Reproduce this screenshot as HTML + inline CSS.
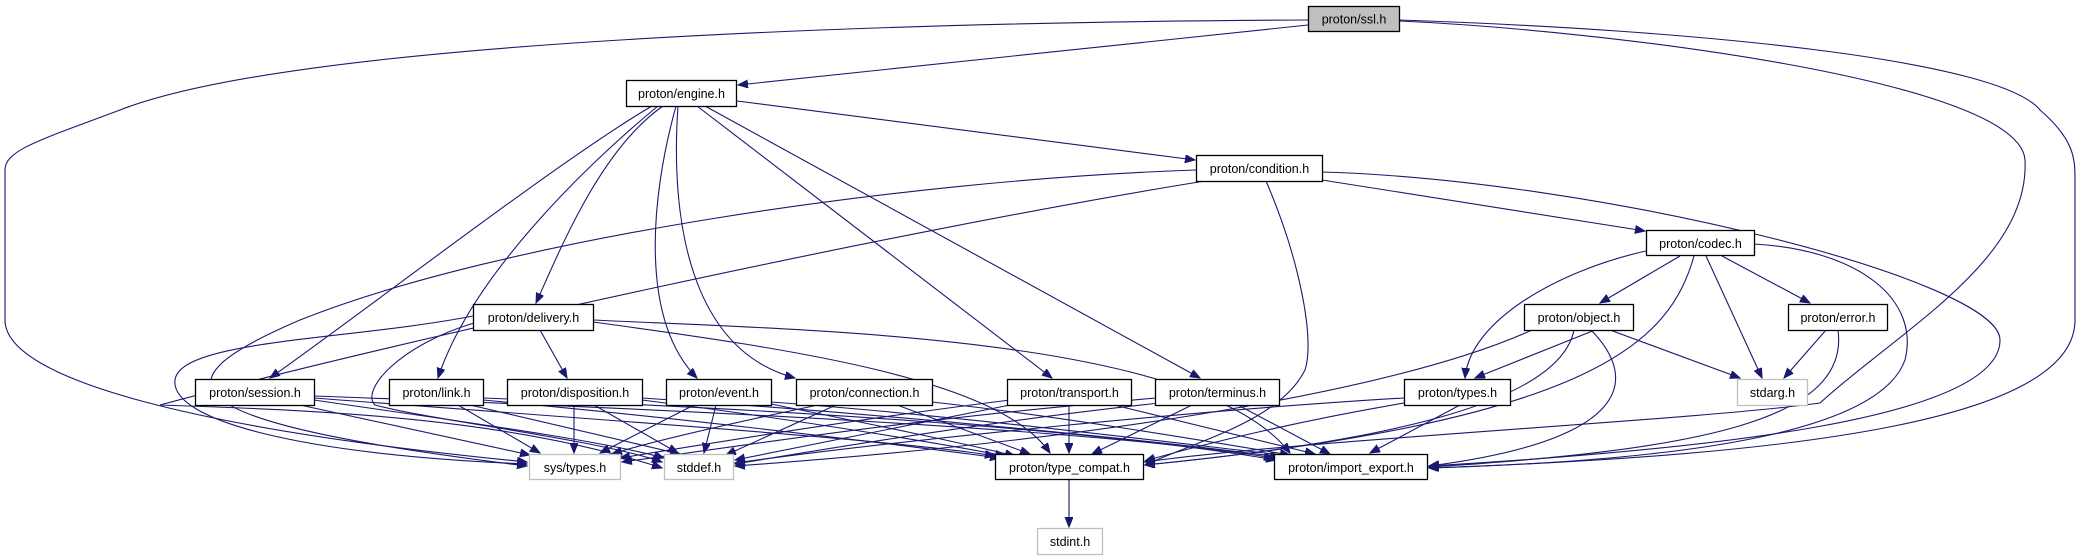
<!DOCTYPE html>
<html><head><meta charset="utf-8"><style>
html,body{margin:0;padding:0;background:#fff;}
svg{display:block;}
text{font-family:"Liberation Sans",Arial,sans-serif;font-size:12.5px;fill:#000;}
.e{fill:none;stroke:#191970;stroke-width:1.1;marker-end:url(#a);}
.n{fill:#fff;stroke:#000;stroke-width:1.3;}
.g{fill:#fff;stroke:#bfbfbf;stroke-width:1.3;}
</style></head><body>
<svg width="2081" height="560" viewBox="0 0 2081 560" xmlns="http://www.w3.org/2000/svg">
<defs><marker id="a" markerUnits="userSpaceOnUse" markerWidth="11" markerHeight="9" refX="10" refY="4" orient="auto"><path d="M0,0 L10,4 L0,8 z" fill="#191970" stroke="#191970"/></marker></defs>

<!-- ssl edges -->
<path class="e" d="M1308,25 L738,85"/>
<path class="e" d="M1308,20 C900,22 300,40 120,110 C40,140 5,150 5,170 L5,320 C5,380 200,430 527,462"/>
<path class="e" d="M1399,20 C1700,30 2000,60 2040,110 C2075,140 2075,160 2075,180 L2075,320 C2075,420 1800,455 1429,468"/>
<path class="e" d="M1399,21 C1600,30 2020,80 2025,160 C2030,260 1900,330 1820,403 C1700,420 1300,440 1145,462"/>

<!-- engine edges -->
<path class="e" d="M737,101 L1195,160"/>
<path class="e" d="M663,106 C600,150 560,250 536,303"/>
<path class="e" d="M652,106 C560,160 380,300 270,378"/>
<path class="e" d="M658,106 C580,170 470,280 438,378"/>
<path class="e" d="M676,106 C650,200 640,320 697,378"/>
<path class="e" d="M678,106 C670,220 690,350 795,378"/>
<path class="e" d="M697,106 L1052,378"/>
<path class="e" d="M705,106 L1200,378"/>

<!-- condition edges -->
<path class="e" d="M1196,170 C900,180 500,240 300,320 C160,380 150,420 527,466"/>
<path class="e" d="M1205,181 C900,230 400,340 160,405 C300,410 500,415 662,468"/>
<path class="e" d="M1266,181 C1300,260 1315,340 1305,370 C1280,420 1200,440 1145,465"/>
<path class="e" d="M1322,180 L1645,231"/>
<path class="e" d="M1322,172 C1600,180 2000,280 2000,340 C2000,420 1700,450 1429,466"/>

<!-- codec edges -->
<path class="e" d="M1680,256 L1600,303"/>
<path class="e" d="M1646,251 C1560,270 1470,320 1465,378"/>
<path class="e" d="M1706,256 L1762,378"/>
<path class="e" d="M1722,256 L1810,303"/>
<path class="e" d="M1694,256 C1670,340 1600,420 1145,465"/>
<path class="e" d="M1754,244 C1860,250 1920,300 1905,360 C1880,430 1700,460 1429,468"/>

<!-- object edges -->
<path class="e" d="M1595,330 L1475,378"/>
<path class="e" d="M1610,330 L1740,378"/>
<path class="e" d="M1574,330 C1560,400 1400,440 1145,465"/>
<path class="e" d="M1591,330 C1640,380 1630,440 1429,466"/>
<path class="e" d="M1532,330 C1400,390 1100,440 735,466"/>

<!-- error edges -->
<path class="e" d="M1826,330 L1784,378"/>
<path class="e" d="M1838,330 C1850,420 1700,450 1429,467"/>

<!-- types edges -->
<path class="e" d="M1460,405 L1370,453"/>
<path class="e" d="M1422,400 C1300,420 1200,445 1145,461"/>
<path class="e" d="M1404,398 C1200,410 900,440 735,463"/>

<!-- delivery edges -->
<path class="e" d="M473,316 C350,340 180,340 175,380 C170,420 300,455 527,464"/>
<path class="e" d="M474,323 C400,345 360,390 375,405 C430,420 600,440 662,462"/>
<path class="e" d="M540,330 L567,378"/>
<path class="e" d="M593,322 C800,350 1000,380 1050,453"/>
<path class="e" d="M593,320 C800,330 1200,335 1290,453"/>

<!-- session edges -->
<path class="e" d="M300,405 L530,455"/>
<path class="e" d="M314,400 C450,420 600,440 664,458"/>
<path class="e" d="M314,398 C600,420 900,440 995,456"/>
<path class="e" d="M314,396 C700,410 1100,430 1274,458"/>

<!-- link edges -->
<path class="e" d="M458,405 L540,453"/>
<path class="e" d="M470,405 L680,454"/>
<path class="e" d="M483,400 C700,420 900,445 1000,458"/>
<path class="e" d="M483,398 C800,410 1100,430 1276,460"/>

<!-- disposition edges -->
<path class="e" d="M574,405 L574,453"/>
<path class="e" d="M594,405 L678,453"/>
<path class="e" d="M642,400 C800,420 950,445 1005,456"/>
<path class="e" d="M642,398 C900,415 1150,440 1280,457"/>

<!-- event edges -->
<path class="e" d="M694,405 L600,453"/>
<path class="e" d="M716,405 L704,453"/>
<path class="e" d="M771,404 C850,420 950,440 1015,456"/>
<path class="e" d="M771,402 C950,415 1150,440 1290,456"/>

<!-- connection edges -->
<path class="e" d="M818,405 C700,430 640,445 612,454"/>
<path class="e" d="M836,405 L726,455"/>
<path class="e" d="M897,405 L1030,454"/>
<path class="e" d="M932,402 C1050,415 1200,440 1290,455"/>

<!-- transport edges -->
<path class="e" d="M1010,400 C850,420 700,445 620,458"/>
<path class="e" d="M1015,404 L735,460"/>
<path class="e" d="M1069,405 L1069,453"/>
<path class="e" d="M1114,405 L1315,454"/>

<!-- terminus edges -->
<path class="e" d="M1156,398 C900,420 750,445 622,462"/>
<path class="e" d="M1160,403 C1000,420 850,445 735,464"/>
<path class="e" d="M1192,405 L1092,454"/>
<path class="e" d="M1238,405 L1330,454"/>

<!-- type_compat -> stdint -->
<path class="e" d="M1069,479 L1069,527"/>

<!-- nodes -->
<rect x="1308.5" y="6.5" width="91" height="25" fill="#bfbfbf" stroke="#000" stroke-width="1.3"/>
<text x="1354" y="23.5" text-anchor="middle">proton/ssl.h</text>

<rect class="n" x="626.5" y="80.5" width="110" height="26"/>
<text x="681.5" y="98" text-anchor="middle">proton/engine.h</text>

<rect class="n" x="1196.5" y="155.5" width="126" height="26"/>
<text x="1259.5" y="173" text-anchor="middle">proton/condition.h</text>

<rect class="n" x="1646.5" y="230.5" width="108" height="25"/>
<text x="1700.5" y="248" text-anchor="middle">proton/codec.h</text>

<rect class="n" x="473.5" y="304.5" width="120" height="26"/>
<text x="533.5" y="322" text-anchor="middle">proton/delivery.h</text>

<rect class="n" x="1524.5" y="304.5" width="109" height="26"/>
<text x="1579" y="322" text-anchor="middle">proton/object.h</text>

<rect class="n" x="1788.5" y="304.5" width="99" height="26"/>
<text x="1838" y="322" text-anchor="middle">proton/error.h</text>

<rect class="n" x="195.5" y="379.5" width="119" height="26"/>
<text x="255" y="397" text-anchor="middle">proton/session.h</text>

<rect class="n" x="389.5" y="379.5" width="94" height="26"/>
<text x="436.5" y="397" text-anchor="middle">proton/link.h</text>

<rect class="n" x="507.5" y="379.5" width="135" height="26"/>
<text x="575" y="397" text-anchor="middle">proton/disposition.h</text>

<rect class="n" x="666.5" y="379.5" width="105" height="26"/>
<text x="719" y="397" text-anchor="middle">proton/event.h</text>

<rect class="n" x="796.5" y="379.5" width="136" height="26"/>
<text x="864.5" y="397" text-anchor="middle">proton/connection.h</text>

<rect class="n" x="1007.5" y="379.5" width="124" height="26"/>
<text x="1069.5" y="397" text-anchor="middle">proton/transport.h</text>

<rect class="n" x="1155.5" y="379.5" width="124" height="26"/>
<text x="1217.5" y="397" text-anchor="middle">proton/terminus.h</text>

<rect class="n" x="1404.5" y="379.5" width="106" height="26"/>
<text x="1457.5" y="397" text-anchor="middle">proton/types.h</text>

<rect class="g" x="1737.5" y="379.5" width="70" height="26"/>
<text x="1772.5" y="397" text-anchor="middle">stdarg.h</text>

<rect class="g" x="529.5" y="454.5" width="91" height="25"/>
<text x="575" y="472" text-anchor="middle">sys/types.h</text>

<rect class="g" x="664.5" y="454.5" width="69" height="25"/>
<text x="699" y="472" text-anchor="middle">stddef.h</text>

<rect class="n" x="995.5" y="454.5" width="148" height="25"/>
<text x="1069.5" y="472" text-anchor="middle">proton/type_compat.h</text>

<rect class="n" x="1274.5" y="454.5" width="153" height="25"/>
<text x="1351" y="472" text-anchor="middle">proton/import_export.h</text>

<rect class="g" x="1037.5" y="528.5" width="65" height="26"/>
<text x="1070" y="546" text-anchor="middle">stdint.h</text>
</svg>
</body></html>
